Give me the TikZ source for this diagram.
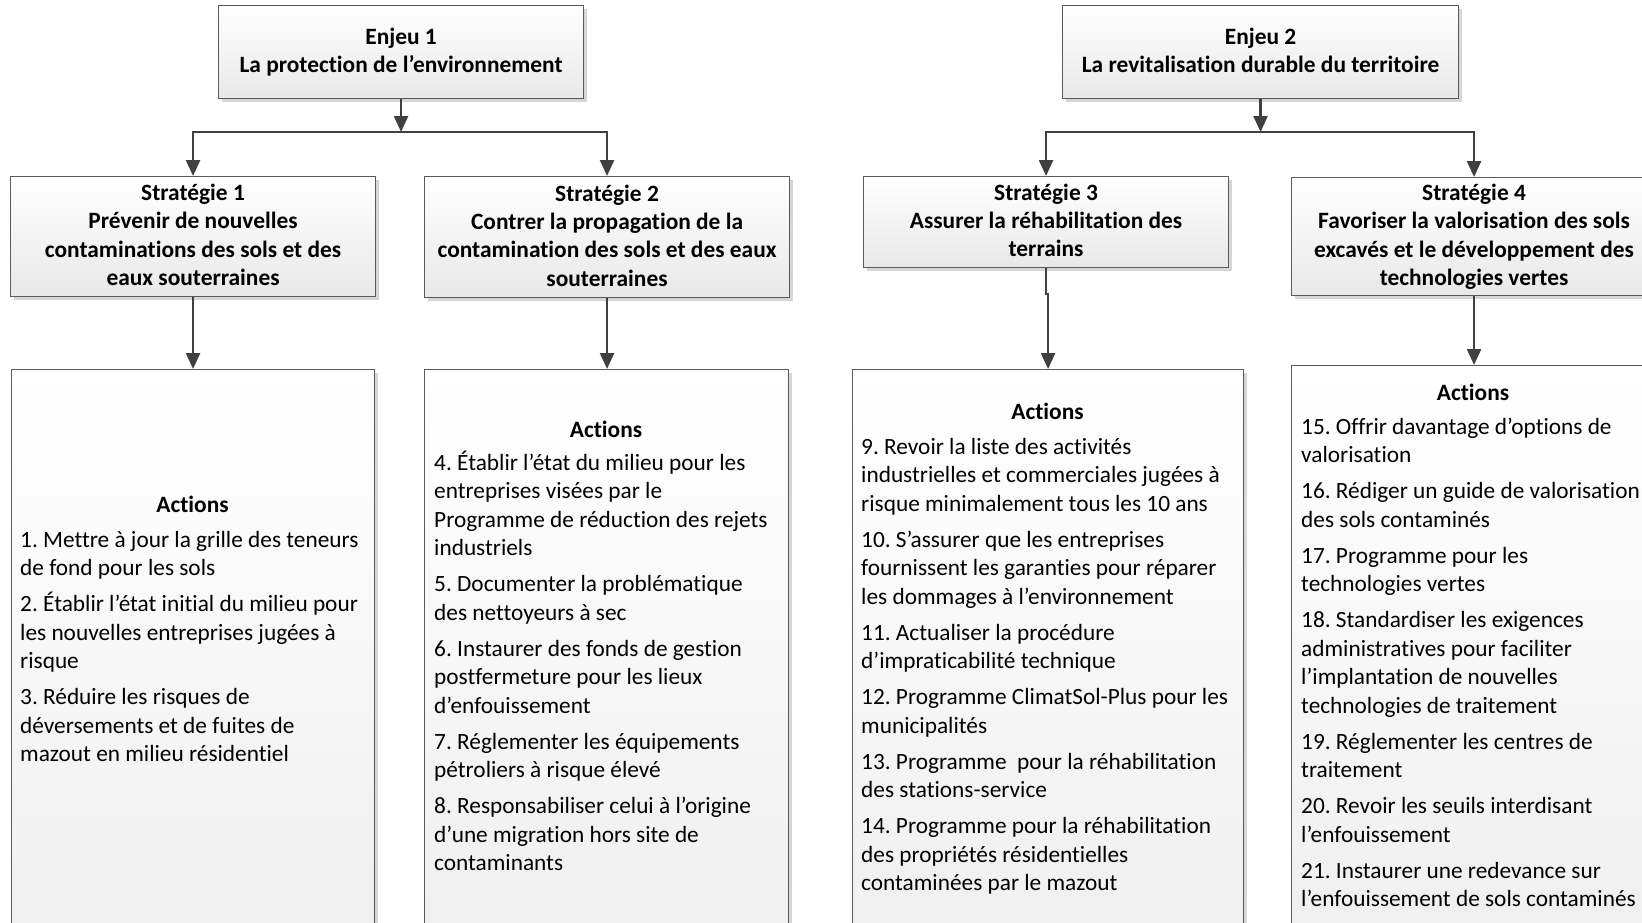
\documentclass[tikz,border=0pt]{standalone}
\usepackage{fontspec}
\setmainfont{Carlito}[Ligatures=NoCommon]
\usetikzlibrary{arrows.meta,shadows}
\definecolor{linegray}{HTML}{404040}
\definecolor{boxborder}{HTML}{5A5A5A}
\newcommand\myTs{\rule{0pt}{18pt}}
\newcommand\myBs{\rule[-5pt]{0pt}{5pt}}
\newcommand\myIs{\rule{0pt}{22pt}}
\frenchspacing
\begin{document}
\frenchspacing
\begin{tikzpicture}[x=1pt,y=1pt,
  box/.style={draw=boxborder, line width=1.1pt, top color=white, bottom color=gray!18,
    drop shadow={shadow xshift=3.5pt, shadow yshift=-3.5pt, fill=black, opacity=0.16},
    inner sep=0pt, anchor=north west},
  head/.style={box, align=center, font=\bfseries\fontsize{23.4}{28.3}\selectfont},
  actbox/.style={box, bottom color=gray!13},
  acttitle/.style={anchor=base, inner sep=0pt, font=\bfseries\fontsize{23.4}{28.5}\selectfont},
  items/.style={anchor=north west, inner sep=0pt, align=left, font=\fontsize{23.3}{28.5}\selectfont},
  conn/.style={draw=linegray, line width=2.5pt, -{Triangle[width=14pt,length=16pt]}},
]
\useasboundingbox (0,0) rectangle (1642,-922);
\clip (0,0) rectangle (1642,-922);

% Enjeux
\node[head, minimum width=365pt, minimum height=93pt] (e1) at (218,-5)
  {\myTs Enjeu 1\\La protection de l’environnement\myBs};
\node[head, minimum width=396pt, minimum height=93pt] (e2) at (1062,-5)
  {\myTs Enjeu 2\\La revitalisation durable du territoire\myBs};

% Strategies
\node[head, minimum width=365pt, minimum height=120pt] (s1) at (10,-176)
  {\myTs Stratégie 1\\Prévenir de nouvelles\\contaminations des sols et des\\eaux souterraines\myBs};
\node[head, minimum width=365pt, minimum height=121pt] (s2) at (424,-176)
  {\myTs Stratégie 2\\Contrer la propagation de la\\contamination des sols et des eaux\\souterraines\myBs};
\node[head, minimum width=365pt, minimum height=91pt] (s3) at (863,-176)
  {\myTs Stratégie 3\\Assurer la réhabilitation des\\terrains\myBs};
\node[head, minimum width=365pt, minimum height=118pt] (s4) at (1291,-177)
  {\myTs Stratégie 4\\Favoriser la valorisation des sols\\excavés et le développement des\\technologies vertes\myBs};

% Action boxes
\node[actbox, minimum width=363pt, minimum height=600pt] (a1) at (11,-369) {};
\node[actbox, minimum width=364pt, minimum height=600pt] (a2) at (424,-369) {};
\node[actbox, minimum width=391pt, minimum height=600pt] (a3) at (852,-369) {};
\node[actbox, minimum width=365pt, minimum height=600pt] (a4) at (1291,-365) {};

% Action texts
\node[acttitle] (t1) at (192.5,-512) {Actions};
\node[items] (l1) at (20,-525) {\myIs 1. Mettre à jour la grille des teneurs\\de fond pour les sols\\[7.5pt]2. Établir l’état initial du milieu pour\\les nouvelles entreprises jugées à\\risque\\[7.5pt]3. Réduire les risques de\\déversements et de fuites de\\mazout en milieu résidentiel};

\node[acttitle] (t2) at (606,-437) {Actions};
\node[items] (l2) at (434,-448) {\myIs 4. Établir l’état du milieu pour les\\entreprises visées par le\\Programme de réduction des rejets\\industriels\\[7.5pt]5. Documenter la problématique\\des nettoyeurs à sec\\[7.5pt]6. Instaurer des fonds de gestion\\postfermeture pour les lieux\\d’enfouissement\\[7.5pt]7. Réglementer les équipements\\pétroliers à risque élevé\\[7.5pt]8. Responsabiliser celui à l’origine\\d’une migration hors site de\\contaminants};

\node[acttitle] (t3) at (1047.5,-419) {Actions};
\node[items] (l3) at (861,-432) {\myIs 9. Revoir la liste des activités\\industrielles et commerciales jugées à\\risque minimalement tous les 10 ans\\[7.5pt]10. S’assurer que les entreprises\\fournissent les garanties pour réparer\\les dommages à l’environnement\\[7.5pt]11. Actualiser la procédure\\d’impraticabilité technique\\[7.5pt]12. Programme ClimatSol-Plus pour les\\municipalités\\[7.5pt]13. Programme~ pour la réhabilitation\\des stations-service\\[7.5pt]14. Programme pour la réhabilitation\\des propriétés résidentielles\\contaminées par le mazout};

\node[acttitle] (t4) at (1473,-400) {Actions};
\node[items] (l4) at (1301,-412) {\myIs 15. Offrir davantage d’options de\\valorisation\\[7.5pt]16. Rédiger un guide de valorisation\\des sols contaminés\\[7.5pt]17. Programme pour les\\technologies vertes\\[7.5pt]18. Standardiser les exigences\\administratives pour faciliter\\l’implantation de nouvelles\\technologies de traitement\\[7.5pt]19. Réglementer les centres de\\traitement\\[7.5pt]20. Revoir les seuils interdisant\\l’enfouissement\\[7.5pt]21. Instaurer une redevance sur\\l’enfouissement de sols contaminés};

% Connectors
\coordinate (lvl) at (0,-132);
\coordinate (j1) at (e1.south |- lvl);
\coordinate (j2) at (e2.south |- lvl);
\draw[conn] (e1.south) -- (j1);
\draw[conn] (j1) -| (s1.north);
\draw[conn] (j1) -| (s2.north);
\draw[conn] (e2.south) -- (j2);
\draw[conn] (j2) -| (s3.north);
\draw[conn] (j2) -| (s4.north);

\draw[conn] (s1.south) -- (a1.north);
\draw[conn] (s2.south) -- (s2.south |- a2.north);
\draw[conn] (s3.south) -- ++(0,-26) -| (a3.north);
\draw[conn] (s4.south) -- (s4.south |- a4.north);
\end{tikzpicture}
\end{document}
